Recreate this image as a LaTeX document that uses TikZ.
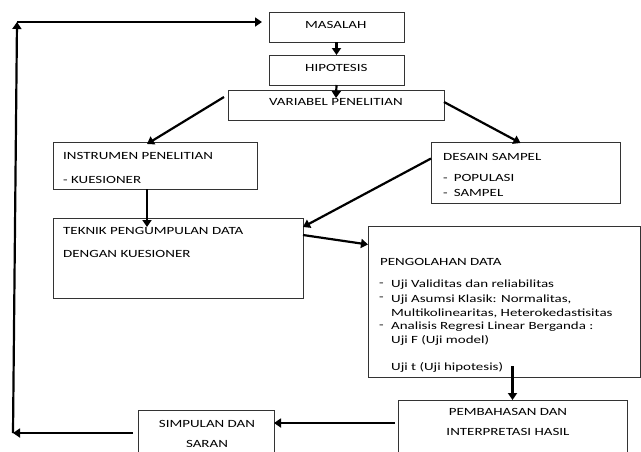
\documentclass[tikz,border=0pt]{standalone}
\usepackage{fontspec}
\setmainfont{Carlito}
\newfontfamily\boxfont{Carlito}[FakeStretch=1.36]
\usetikzlibrary{arrows.meta,calc}
\begin{document}
\begin{tikzpicture}[x=1pt,y=-1pt,
  box/.style={draw=black!80, line width=0.9pt, anchor=north west, inner sep=0pt, outer sep=0pt},
  txt/.style={anchor=west, inner sep=0pt, font=\fontsize{11}{14}\boxfont, align=left},
  ctxt/.style={anchor=center, inner sep=0pt, font=\fontsize{11}{20}\boxfont, align=center},
  arr/.style={line width=2.2pt, -{Triangle[length=7pt,width=9pt]}}]
\clip (0,0) rectangle (641,451);
\fill[white] (0,0) rectangle (641,451);

% boxes
\node[box, minimum width=135pt, minimum height=30pt] (mas) at (269,12) {};
\node[box, minimum width=135pt, minimum height=30pt] (hip) at (269,55) {};
\node[box, minimum width=216pt, minimum height=30pt] (var) at (228,90) {};
\node[box, minimum width=204pt, minimum height=47pt] (inst) at (53,142) {};
\node[box, minimum width=189pt, minimum height=61pt] (des) at (431,142) {};
\node[box, minimum width=250pt, minimum height=80pt] (tek) at (53,218) {};
\node[box, minimum width=272pt, minimum height=151pt] (peng) at (368,226) {};
\node[box, minimum width=229pt, minimum height=60pt] (pem) at (398,400) {};
\node[box, minimum width=136pt, minimum height=50pt] (sim) at (138,410) {};

% texts
\node[txt] (tmas) at (305,25) {MASALAH};
\node[txt] (thip) at (305,68) {HIPOTESIS};
\node[txt] (tvar) at (269,102) {VARIABEL PENELITIAN};
\node[txt] (tinst1) at (63,156) {INSTRUMEN PENELITIAN};
\node[txt] (tinst2) at (63,180) {- KUESIONER};
\node[txt] (tdes1) at (443,157) {DESAIN SAMPEL};
\node[txt] (tdes2) at (443,178) {-\hspace{6pt}POPULASI};
\node[txt] (tdes3) at (443,193) {-\hspace{6pt}SAMPEL};
\node[txt] (ttek1) at (63,231) {TEKNIK PENGUMPULAN DATA};
\node[txt] (ttek2) at (63,254) {DENGAN KUESIONER};
\node[txt] (tpeng) at (380,262) {PENGOLAHAN DATA};
\node[txt] (tp1) at (379,285) {-};
\node[txt] (tp1b) at (391,285) {Uji Validitas dan reliabilitas};
\node[txt] (tp2) at (379,299) {-};
\node[txt] (tp2b) at (391,306) {Uji Asumsi Klasik: Normalitas,\\Multikolinearitas, Heterokedastisitas};
\node[txt] (tp3) at (379,327) {-};
\node[txt] (tp3b) at (391,334) {Analisis Regresi Linear Berganda :\\Uji F (Uji model)};
\node[txt] (tp4) at (391,367) {Uji t (Uji hipotesis)};
\node[ctxt] (tpem) at (508,422) {PEMBAHASAN DAN\\INTERPRETASI HASIL};
\node[ctxt] (tsim) at (207,434) {SIMPULAN DAN\\SARAN};

% loop-back corner points
\coordinate (bl) at (13,433);
\coordinate (tl) at (17,22);

% connectors
\draw[arr] (mas.south) -- (hip.north);
\draw[arr] (hip.south) -- ([yshift=-8pt]var.north);
\draw[arr] ([xshift=-4pt,yshift=8pt]var.west) -- ([xshift=-8pt,yshift=-2pt]inst.north);
\draw[arr] ([yshift=3pt]var.east) -- ([xshift=-5pt,yshift=-1pt]des.north);
\draw[arr] ([xshift=-8pt]inst.south) -- ++(0,38);
\draw[arr] ([yshift=14pt]des.west) -- ([yshift=31pt]tek.east);
\draw[arr] ([yshift=23pt]tek.east) -- ([yshift=57pt]peng.west);
\draw[arr] ([yshift=34pt]pem.north) -- (pem.north);
\draw[arr] ([xshift=-3pt,yshift=7pt]pem.west) -- ([yshift=7pt]pem.west -| sim.east);
\draw[arr] ([xshift=-5pt,yshift=2pt]sim.west) -- (bl);
\draw[arr] (bl) -- (tl);
\draw[arr] (tl) -- ([xshift=-7pt,yshift=5pt]mas.west);
\end{tikzpicture}
\end{document}
